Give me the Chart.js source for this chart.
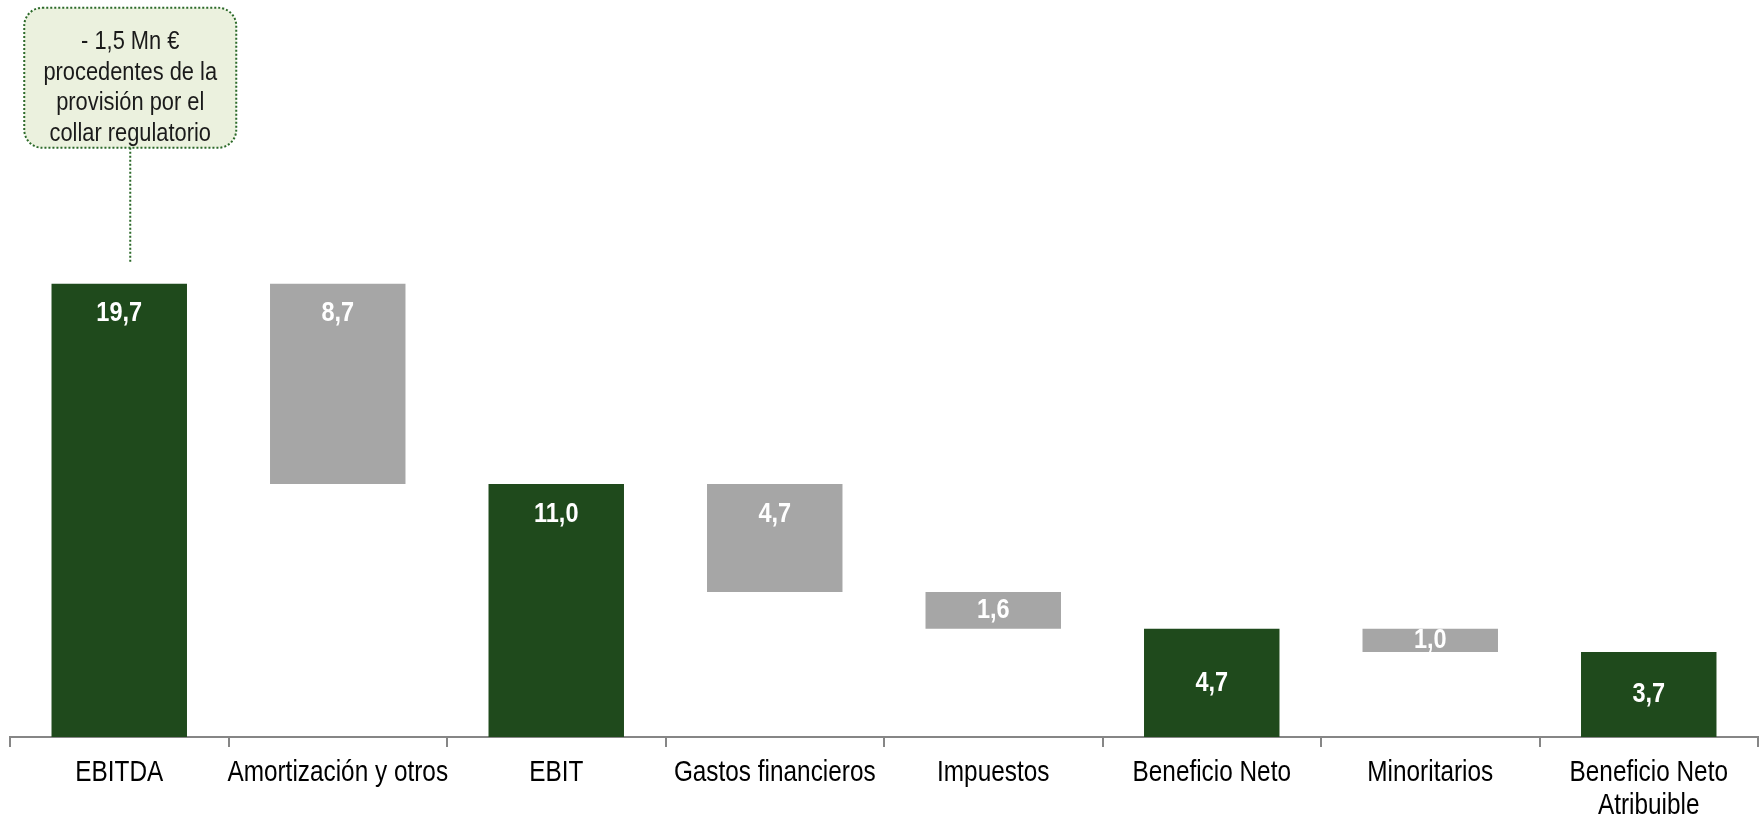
<!DOCTYPE html>
<html>
<head>
<meta charset="utf-8">
<script src="https://cdn.jsdelivr.net/npm/chart.js@4/dist/chart.umd.min.js"></script>
<style>
  html, body { margin: 0; padding: 0; background: #fff; }
  #wrap { width: 1763px; height: 818px; }
</style>
</head>
<body>
<div id="wrap"><canvas id="chart"></canvas></div>
<script>
const categories = ["EBITDA", "Amortización y otros", "EBIT", "Gastos financieros", "Impuestos", "Beneficio Neto", "Minoritarios", ["Beneficio Neto", "Atribuible"]];
const values = [19.7, -8.7, 11.0, -4.7, -1.6, 4.7, -1.0, 3.7];
const isTotal = [true, false, true, false, false, true, false, true];
const calloutLines = ["- 1,5 Mn €", "procedentes de la", "provisión por el", "collar regulatorio"];

const FONT = "'Liberation Sans', Arial, sans-serif";
const NARROW = 0.84; // condensed look of the original font
const GREEN = "#1f4a1c";
const GREY = "#a6a6a6";

// floating bars for the waterfall
let running = 0;
const ranges = values.map((v, i) => {
  if (isTotal[i]) { running = v; return [0, v]; }
  const r = [running + v, running];
  running += v;
  return r;
});
const labelAtTop = [true, true, true, true, false, false, false, false];

function narrowText(ctx, text, x, y) {
  ctx.save();
  ctx.translate(x, y);
  ctx.scale(NARROW, 1);
  ctx.fillText(text, 0, 0);
  ctx.restore();
}

const valueLabels = {
  id: "valueLabels",
  afterDatasetsDraw(chart) {
    const ctx = chart.ctx;
    const meta = chart.getDatasetMeta(0);
    ctx.save();
    ctx.font = "bold 28px " + FONT;
    ctx.fillStyle = "#fff";
    ctx.textAlign = "center";
    ctx.textBaseline = "middle";
    meta.data.forEach((bar, i) => {
      const top = Math.min(bar.y, bar.base);
      const bottom = Math.max(bar.y, bar.base);
      const y = labelAtTop[i] ? top + 30 : (top + bottom) / 2;
      narrowText(ctx, Math.abs(values[i]).toFixed(1).replace(".", ","), bar.x, y);
    });
    ctx.restore();
  }
};

// category labels, drawn condensed under the axis
const xLabels = {
  id: "xLabels",
  afterDraw(chart) {
    const ctx = chart.ctx;
    const xs = chart.scales.x;
    const base = chart.chartArea.bottom;
    ctx.save();
    ctx.font = "29px " + FONT;
    ctx.fillStyle = "#000";
    ctx.textAlign = "center";
    ctx.textBaseline = "middle";
    categories.forEach((c, i) => {
      const lines = Array.isArray(c) ? c : [c];
      lines.forEach((t, j) => narrowText(ctx, t, xs.getPixelForValue(i), base + 36 + j * 33));
    });
    ctx.restore();
  }
};

const callout = {
  id: "callout",
  afterDraw(chart) {
    const ctx = chart.ctx;
    const bar = chart.getDatasetMeta(0).data[0];
    const cx = bar.x + 11;
    const top = Math.min(bar.y, bar.base);
    const w = 212, h = 140;
    const bx = cx - w / 2, by = top - 136 - h;
    ctx.save();
    ctx.beginPath();
    ctx.roundRect(bx, by, w, h, 18);
    ctx.fillStyle = "#ebf1de";
    ctx.fill();
    ctx.setLineDash([2, 2]);
    ctx.lineWidth = 2;
    ctx.strokeStyle = "#2c6a2a";
    ctx.stroke();
    ctx.beginPath();
    ctx.moveTo(cx, by + h);
    ctx.lineTo(cx, top - 21);
    ctx.stroke();
    ctx.setLineDash([]);
    ctx.font = "26px " + FONT;
    ctx.fillStyle = "#1a1a1a";
    ctx.textAlign = "center";
    ctx.textBaseline = "middle";
    calloutLines.forEach((t, i) => narrowText(ctx, t, cx, by + 34 + i * 30.7));
    ctx.restore();
  }
};

new Chart(document.getElementById("chart"), {
  type: "bar",
  data: {
    labels: categories,
    datasets: [{
      data: ranges,
      backgroundColor: isTotal.map(t => t ? GREEN : GREY),
      borderWidth: 0,
      categoryPercentage: 1,
      barPercentage: 0.62
    }]
  },
  options: {
    responsive: true,
    maintainAspectRatio: false,
    animation: false,
    layout: { padding: { top: 10, left: 10, right: 5, bottom: 15 } },
    plugins: { legend: { display: false }, tooltip: { enabled: false } },
    scales: {
      x: {
        grid: { display: true, drawOnChartArea: false, tickLength: 10, color: "#868686", lineWidth: 2 },
        border: { display: true, color: "#868686", width: 2 },
        ticks: {
          color: "rgba(0,0,0,0)",
          padding: 0,
          maxRotation: 0,
          autoSkip: false,
          font: { family: FONT, size: 28, lineHeight: 1.0 }
        }
      },
      y: {
        display: false,
        min: 0,
        max: 31.6
      }
    }
  },
  plugins: [valueLabels, xLabels, callout]
});
</script>
</body>
</html>
